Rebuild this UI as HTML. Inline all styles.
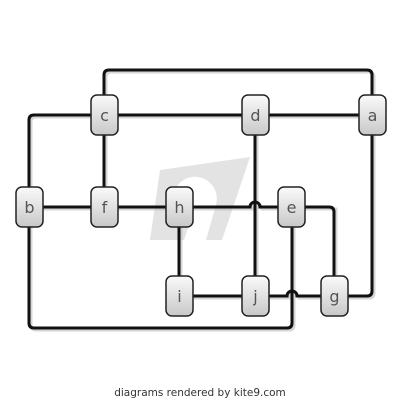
<!DOCTYPE html>
<html><head><style>
html,body{margin:0;padding:0;background:#fff;width:400px;height:400px;overflow:hidden}
</style></head><body>
<svg width="400" height="400" viewBox="0 0 400 400" xmlns="http://www.w3.org/2000/svg">
<defs>
<linearGradient id="g" x1="0" y1="0" x2="0" y2="1">
<stop offset="0" stop-color="#fafafa"/><stop offset="1" stop-color="#c8c8c8"/>
</linearGradient>
</defs>
<polygon points="160,170 250,157 222,240 150,240" fill="#e3e3e3"/>
<path d="M180,215 a22,22 0 1 1 36,-10 l-10,35 h-22 l10,-30 a10,10 0 0 1 -14,5 z" fill="#fff"/>
<g fill="none" stroke="#bbb" stroke-width="3" transform="translate(2,2)" opacity="0.6">
<path d="M104,95 V75 Q104,70 109,70 H367 Q372,70 372,75 V95"/>
<path d="M29,187 V120 Q29,115 34,115 H372"/>
<path d="M104,115 V207 M29,207 H250 A5,5 0 0 1 260,207 H334 Q334,207 334,212 V296"/>
<path d="M255,115 V296 M179,207 V296 M179,296 H287 A5,5 0 0 1 297,296 H367 Q372,296 372,291 V115"/>
<path d="M292,207 V323 Q292,328 287,328 H34 Q29,328 29,323 V207"/>
</g>
<g fill="none" stroke="#111" stroke-width="3">
<path d="M104,95 V75 Q104,70 109,70 H367 Q372,70 372,75 V95"/>
<path d="M29,187 V120 Q29,115 34,115 H372"/>
<path d="M104,115 V207"/>
<path d="M29,207 H250 A5,5 0 0 1 260,207 H329 Q334,207 334,212 V296"/>
<path d="M255,115 V296"/>
<path d="M179,207 V296"/>
<path d="M179,296 H287 A5,5 0 0 1 297,296 H367 Q372,296 372,291 V115"/>
<path d="M292,207 V323 Q292,328 287,328 H34 Q29,328 29,323 V207"/>
</g>
<g stroke="#222" stroke-width="1.5" fill="url(#g)">
<rect x="91" y="95" width="27" height="40" rx="6"/>
<rect x="242" y="95" width="27" height="40" rx="6"/>
<rect x="359" y="95" width="27" height="40" rx="6"/>
<rect x="16" y="187" width="27" height="40" rx="6"/>
<rect x="91" y="187" width="27" height="40" rx="6"/>
<rect x="166" y="187" width="27" height="40" rx="6"/>
<rect x="278" y="187" width="27" height="40" rx="6"/>
<rect x="166" y="276" width="27" height="40" rx="6"/>
<rect x="242" y="276" width="27" height="40" rx="6"/>
<rect x="321" y="276" width="27" height="40" rx="6"/>
</g>
<g font-family="'DejaVu Sans', sans-serif" font-size="16" fill="#555" text-anchor="middle">
<text x="104.5" y="121">c</text>
<text x="255.5" y="121">d</text>
<text x="372.5" y="121">a</text>
<text x="29.5" y="213">b</text>
<text x="104.5" y="213">f</text>
<text x="179.5" y="213">h</text>
<text x="291.5" y="213">e</text>
<text x="179.5" y="302">i</text>
<text x="255.5" y="302">j</text>
<text x="334.5" y="302">g</text>
</g>
<text x="200" y="396" font-family="'DejaVu Sans', sans-serif" font-size="10.5" fill="#333" text-anchor="middle">diagrams rendered by kite9.com</text>
</svg>
</body></html>
